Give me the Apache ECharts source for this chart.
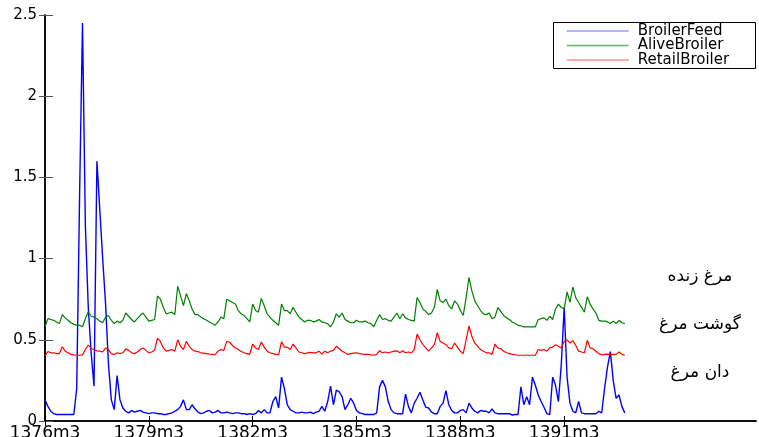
<!DOCTYPE html>
<html>
<head>
<meta charset="utf-8">
<script src="https://cdn.jsdelivr.net/npm/echarts@6/dist/echarts.min.js"></script>
<style>html,body{margin:0;padding:0;background:#fff}#c{width:759px;height:437px}</style>
</head>
<body>
<div id="c"></div>
<script>
// Monthly series, starting 1376m3
const broilerFeed = [
0.13,0.09,0.06,0.045,0.04,0.04,0.04,0.04,0.04,0.04,
0.04,0.2,1.4,2.45,1.2,0.7,0.42,0.215,1.6,1.3,
1.0,0.72,0.35,0.13,0.07,0.28,0.13,0.08,0.06,0.05,
0.065,0.055,0.06,0.065,0.055,0.05,0.045,0.05,0.05,0.045,
0.045,0.04,0.04,0.045,0.05,0.06,0.07,0.09,0.13,0.07,
0.07,0.1,0.075,0.055,0.045,0.05,0.06,0.065,0.05,0.055,
0.065,0.05,0.05,0.055,0.05,0.045,0.05,0.05,0.045,0.045,
0.04,0.045,0.04,0.045,0.065,0.05,0.07,0.05,0.05,0.12,
0.15,0.08,0.27,0.2,0.1,0.07,0.06,0.05,0.05,0.055,
0.05,0.05,0.055,0.045,0.055,0.06,0.09,0.06,0.12,0.215,
0.1,0.19,0.18,0.15,0.07,0.1,0.14,0.11,0.065,0.05,
0.045,0.04,0.04,0.04,0.04,0.05,0.21,0.25,0.21,0.12,
0.07,0.05,0.045,0.045,0.045,0.166,0.09,0.05,0.11,0.14,
0.177,0.13,0.085,0.08,0.055,0.045,0.045,0.09,0.11,0.187,
0.1,0.065,0.05,0.05,0.065,0.07,0.05,0.11,0.08,0.06,
0.05,0.065,0.06,0.06,0.05,0.075,0.05,0.045,0.045,0.045,
0.045,0.045,0.037,0.04,0.04,0.21,0.1,0.15,0.1,0.27,
0.22,0.16,0.12,0.085,0.045,0.04,0.27,0.22,0.12,0.35,
0.7,0.27,0.11,0.06,0.05,0.12,0.05,0.045,0.045,0.045,
0.045,0.045,0.06,0.05,0.2,0.33,0.427,0.25,0.14,0.16,
0.09,0.05
];
const aliveBroiler = [
0.58,0.63,0.625,0.62,0.61,0.60,0.655,0.635,0.62,0.605,
0.595,0.59,0.59,0.58,0.63,0.673,0.645,0.64,0.63,0.615,
0.605,0.64,0.65,0.62,0.60,0.615,0.605,0.62,0.665,0.645,
0.625,0.61,0.63,0.65,0.665,0.64,0.615,0.62,0.625,0.77,
0.75,0.70,0.66,0.665,0.67,0.655,0.83,0.77,0.71,0.785,
0.74,0.69,0.655,0.655,0.64,0.63,0.62,0.61,0.60,0.59,
0.61,0.64,0.63,0.75,0.74,0.73,0.72,0.68,0.66,0.65,
0.63,0.61,0.72,0.68,0.67,0.755,0.71,0.66,0.64,0.62,
0.605,0.59,0.72,0.68,0.68,0.66,0.70,0.67,0.64,0.625,
0.61,0.62,0.62,0.61,0.615,0.625,0.61,0.605,0.60,0.58,
0.61,0.66,0.64,0.665,0.625,0.615,0.605,0.605,0.62,0.61,
0.61,0.615,0.605,0.60,0.58,0.62,0.655,0.625,0.63,0.62,
0.615,0.64,0.665,0.63,0.66,0.635,0.625,0.62,0.615,0.76,
0.73,0.69,0.675,0.655,0.665,0.70,0.81,0.74,0.73,0.75,
0.71,0.69,0.74,0.72,0.68,0.65,0.76,0.885,0.80,0.74,
0.71,0.68,0.66,0.655,0.665,0.63,0.64,0.70,0.675,0.65,
0.635,0.625,0.61,0.60,0.59,0.585,0.58,0.58,0.58,0.58,
0.58,0.625,0.63,0.635,0.62,0.645,0.625,0.69,0.72,0.70,
0.69,0.795,0.73,0.825,0.76,0.73,0.70,0.67,0.765,0.72,
0.69,0.665,0.62,0.615,0.615,0.61,0.60,0.615,0.60,0.62,
0.605,0.60
];
const retailBroiler = [
0.40,0.428,0.42,0.42,0.415,0.415,0.457,0.43,0.42,0.41,
0.407,0.405,0.405,0.407,0.44,0.468,0.445,0.44,0.432,0.43,
0.425,0.45,0.44,0.415,0.41,0.42,0.415,0.42,0.444,0.435,
0.42,0.415,0.425,0.44,0.45,0.435,0.42,0.425,0.437,0.51,
0.49,0.45,0.43,0.435,0.44,0.43,0.50,0.46,0.44,0.49,
0.46,0.44,0.43,0.428,0.42,0.418,0.415,0.412,0.41,0.408,
0.43,0.44,0.435,0.49,0.485,0.465,0.45,0.44,0.428,0.42,
0.415,0.41,0.474,0.45,0.44,0.486,0.455,0.43,0.42,0.415,
0.41,0.408,0.488,0.455,0.455,0.44,0.474,0.45,0.425,0.42,
0.415,0.42,0.422,0.42,0.42,0.43,0.412,0.43,0.42,0.43,
0.435,0.46,0.445,0.43,0.42,0.41,0.415,0.418,0.42,0.415,
0.412,0.41,0.41,0.407,0.405,0.41,0.433,0.42,0.425,0.42,
0.425,0.43,0.432,0.42,0.432,0.42,0.425,0.42,0.44,0.535,
0.50,0.47,0.45,0.43,0.45,0.47,0.544,0.49,0.48,0.47,
0.45,0.445,0.48,0.455,0.43,0.415,0.50,0.585,0.52,0.48,
0.46,0.44,0.43,0.42,0.42,0.41,0.474,0.45,0.445,0.43,
0.42,0.415,0.41,0.408,0.405,0.405,0.405,0.405,0.405,0.405,
0.405,0.44,0.435,0.44,0.43,0.45,0.455,0.47,0.46,0.45,
0.49,0.50,0.48,0.495,0.465,0.43,0.425,0.42,0.497,0.45,
0.445,0.43,0.415,0.408,0.41,0.412,0.41,0.41,0.41,0.425,
0.41,0.405
];
const seriesNames = ['BroilerFeed', 'AliveBroiler', 'RetailBroiler'];
const tickMonths = [0, 36, 72, 108, 144, 180];
const tickLabels = ['1376m3', '1379m3', '1382m3', '1385m3', '1388m3', '1391m3'];
const persianLabels = ['مرغ زنده', 'گوشت مرغ', 'دان مرغ'];

const toPairs = arr => arr.map((v, i) => [i, v]);
const FONT = 'DejaVu Sans';
const axisLineStyle = { color: '#000', width: 1.5 };

const chart = echarts.init(document.getElementById('c'), null, { renderer: 'canvas' });
chart.setOption({
  animation: false,
  backgroundColor: '#fff',
  grid: { left: 45, right: 3, top: 15, bottom: 16, containLabel: false, outerBoundsMode: 'none' },
  legend: {
    orient: 'vertical',
    left: 566, top: 23.5,
    padding: 0,
    itemWidth: 62, itemHeight: 14, itemGap: -0.5,
    z: 10,
    itemStyle: { opacity: 0 },
    textStyle: { fontFamily: FONT, fontSize: 15, color: '#000', lineHeight: 14, padding: [0, 0, 0, 4] },
    data: [
      { name: seriesNames[0], lineStyle: { color: '#9a9aff', width: 1.5 } },
      { name: seriesNames[1], lineStyle: { color: '#66b866', width: 1.5 } },
      { name: seriesNames[2], lineStyle: { color: '#ff8c8c', width: 1.5 } }
    ]
  },
  graphic: [
    { type: 'rect', z: 5, shape: { x: 553.5, y: 22.5, width: 202, height: 46 },
      style: { fill: '#fff', stroke: '#000', lineWidth: 1 } },
    { type: 'text', z: 5, x: 700, y: 277, style: { text: persianLabels[0], font: '17px "DejaVu Sans"', fill: '#000', align: 'center', verticalAlign: 'middle' } },
    { type: 'text', z: 5, x: 700, y: 325, style: { text: persianLabels[1], font: '17px "DejaVu Sans"', fill: '#000', align: 'center', verticalAlign: 'middle' } },
    { type: 'text', z: 5, x: 700, y: 373, style: { text: persianLabels[2], font: '17px "DejaVu Sans"', fill: '#000', align: 'center', verticalAlign: 'middle' } }
  ],
  xAxis: [
    {
      type: 'value', min: 0, max: 246.5, position: 'bottom',
      axisLine: { lineStyle: axisLineStyle },
      axisTick: { inside: true, length: 5, customValues: tickMonths, lineStyle: { color: '#000' } },
      axisLabel: {
        customValues: tickMonths,
        formatter: v => tickLabels[tickMonths.indexOf(v)] || '',
        fontFamily: FONT, fontSize: 17, color: '#000', margin: 4
      },
      splitLine: { show: false }
    },
    {
      type: 'value', min: 0, max: 246.5, position: 'top',
      axisLine: { lineStyle: axisLineStyle },
      axisTick: { inside: true, length: 5, customValues: tickMonths, lineStyle: { color: '#000' } },
      axisLabel: { show: false },
      splitLine: { show: false }
    }
  ],
  yAxis: [
    {
      type: 'value', min: 0, max: 2.5, interval: 0.5, position: 'left',
      axisLine: { show: true, lineStyle: axisLineStyle },
      axisTick: { show: true, inside: true, length: 8, lineStyle: { color: '#555' } },
      axisLabel: { fontFamily: FONT, fontSize: 15, color: '#000', margin: 8 },
      splitLine: { show: false }
    },
    {
      type: 'value', min: 0, max: 2.5, interval: 0.5, position: 'right',
      axisLine: { show: true, lineStyle: axisLineStyle },
      axisTick: { show: true, inside: true, length: 6, lineStyle: { color: '#555' } },
      axisLabel: { show: false },
      splitLine: { show: false }
    }
  ],
  series: [
    { name: seriesNames[0], type: 'line', xAxisIndex: 0, yAxisIndex: 0, data: toPairs(broilerFeed),
      symbol: 'none', lineStyle: { color: '#0000ff', width: 1.4 }, itemStyle: { color: '#0000ff' } },
    { name: seriesNames[1], type: 'line', xAxisIndex: 0, yAxisIndex: 0, data: toPairs(aliveBroiler),
      symbol: 'none', lineStyle: { color: '#008000', width: 1.2 }, itemStyle: { color: '#008000' } },
    { name: seriesNames[2], type: 'line', xAxisIndex: 0, yAxisIndex: 0, data: toPairs(retailBroiler),
      symbol: 'none', lineStyle: { color: '#ff0000', width: 1.2 }, itemStyle: { color: '#ff0000' } }
  ]
});
</script>
</body>
</html>
